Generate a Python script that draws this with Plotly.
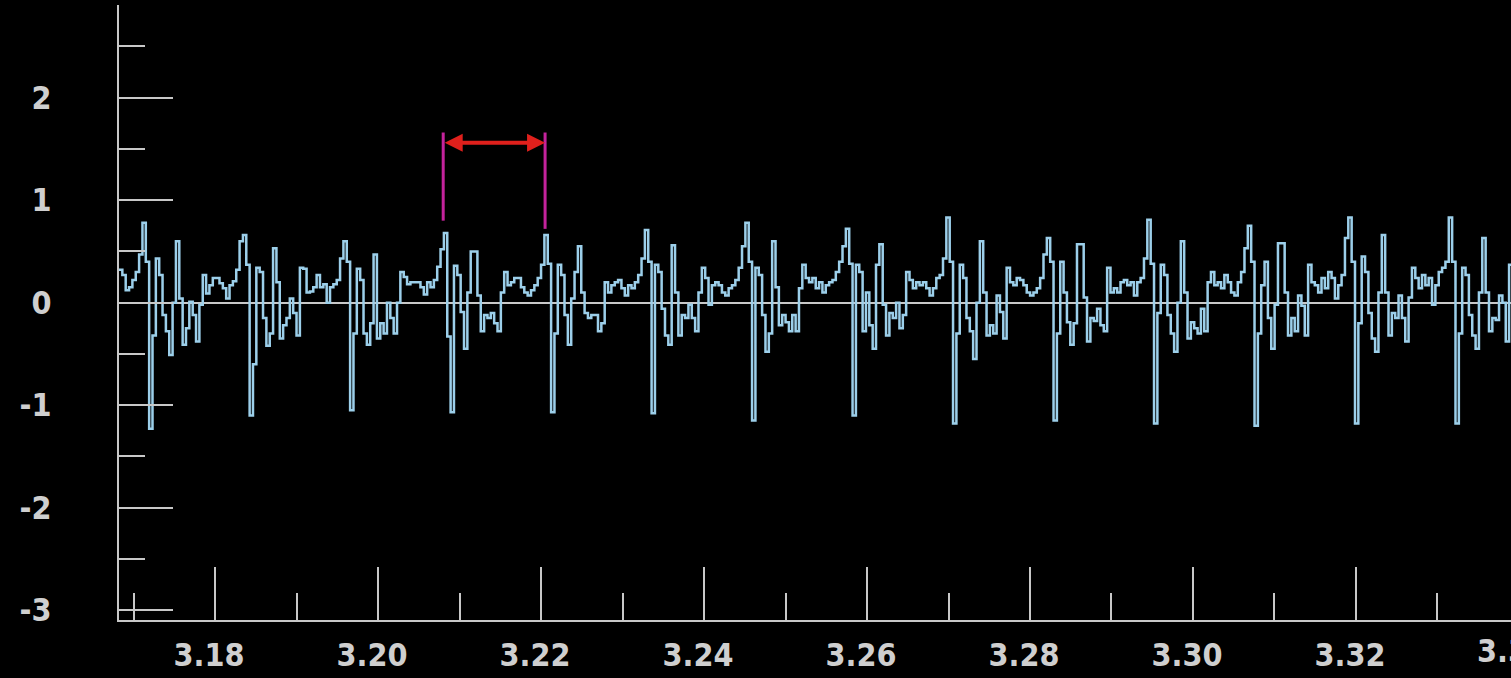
import numpy as np
import plotly.graph_objects as go

# --- sampled signal -------------------------------------------------------
T0 = 3.16822          # time of first sample (s)
DT = 0.0004110        # sample interval (s)

lead_in = [0.32, 0.27, 0.12, 0.15, 0.22, 0.30, 0.47, 0.78]

beat_00 = [0.40, -1.23, -0.32, 0.43, 0.27, -0.12, -0.28, -0.51, 0.00, 0.60, 0.04, -0.41, -0.25, 0.01, -0.12,
           -0.38, -0.02, 0.27, 0.09, 0.17, 0.24, 0.24, 0.19, 0.14, 0.04, 0.17, 0.21, 0.32, 0.60, 0.66]
beat_01 = [0.37, -1.10, -0.60, 0.34, 0.30, -0.15, -0.42, -0.30, 0.53, 0.20, -0.35, -0.22, -0.15, 0.04, -0.10,
           -0.32, 0.34, 0.33, 0.10, 0.11, 0.15, 0.27, 0.15, 0.18, 0.00, 0.15, 0.18, 0.22, 0.43, 0.60]
beat_02 = [0.40, -1.05, -0.30, 0.33, 0.22, -0.30, -0.41, -0.20, 0.47, -0.35, -0.20, -0.30, 0.00, -0.15, -0.30,
           0.00, 0.30, 0.25, 0.18, 0.20, 0.20, 0.20, 0.15, 0.08, 0.20, 0.15, 0.22, 0.35, 0.52, 0.68]
beat_03 = [-0.33, -1.07, 0.36, 0.27, -0.09, -0.45, 0.10, 0.50, 0.50, 0.07, -0.28, -0.12, -0.15, -0.10, -0.20,
           -0.28, 0.10, 0.30, 0.17, 0.20, 0.24, 0.24, 0.15, 0.10, 0.07, 0.12, 0.17, 0.24, 0.37, 0.66]
beat_04 = [0.38, -1.07, -0.30, 0.37, 0.27, -0.12, -0.41, 0.04, 0.30, 0.55, 0.10, -0.10, -0.15, -0.12, -0.12,
           -0.28, -0.20, 0.20, 0.10, 0.17, 0.20, 0.22, 0.14, 0.07, 0.17, 0.14, 0.20, 0.27, 0.43, 0.71]
beat_05 = [0.40, -1.08, 0.37, 0.30, -0.06, -0.32, -0.41, 0.56, 0.10, -0.32, -0.12, -0.15, -0.02, -0.15, -0.28,
           0.10, 0.34, 0.24, -0.02, 0.17, 0.20, 0.17, 0.10, 0.07, 0.14, 0.17, 0.22, 0.34, 0.55, 0.78]
beat_06 = [0.40, -1.15, 0.34, 0.27, -0.12, -0.48, -0.30, 0.60, 0.15, -0.22, -0.12, -0.19, -0.28, -0.12, -0.28,
           0.14, 0.37, 0.24, 0.20, 0.24, 0.14, 0.20, 0.10, 0.17, 0.20, 0.22, 0.30, 0.40, 0.55, 0.72]
beat_07 = [0.38, -1.10, 0.37, 0.30, -0.28, 0.10, -0.22, -0.45, 0.37, 0.57, -0.02, -0.32, -0.10, -0.15, 0.00,
           -0.25, -0.12, 0.30, 0.22, 0.14, 0.20, 0.17, 0.20, 0.14, 0.07, 0.14, 0.24, 0.27, 0.43, 0.83]
beat_08 = [0.40, -1.18, -0.30, 0.37, 0.24, -0.15, -0.28, -0.55, 0.00, 0.60, 0.10, -0.32, -0.22, -0.30, 0.07,
           -0.09, -0.35, 0.34, 0.20, 0.17, 0.24, 0.22, 0.17, 0.10, 0.07, 0.10, 0.14, 0.24, 0.47, 0.63]
beat_09 = [0.40, -1.15, -0.30, 0.40, 0.10, -0.19, -0.41, -0.20, 0.57, 0.57, 0.05, -0.38, -0.15, -0.18, -0.06,
           -0.22, -0.28, 0.34, 0.10, 0.14, 0.10, 0.20, 0.22, 0.17, 0.20, 0.07, 0.20, 0.24, 0.43, 0.81]
beat_10 = [0.38, -1.18, -0.10, 0.37, 0.27, -0.12, -0.30, -0.48, 0.00, 0.60, 0.10, -0.35, -0.19, -0.25, -0.30,
           -0.06, -0.28, 0.20, 0.30, 0.17, 0.20, 0.14, 0.27, 0.20, 0.10, 0.07, 0.20, 0.30, 0.53, 0.75]
beat_11 = [0.40, -1.20, -0.30, 0.17, 0.40, -0.15, -0.45, -0.02, 0.58, 0.58, 0.10, -0.32, -0.15, -0.28, 0.07,
           -0.03, -0.32, 0.37, 0.20, 0.17, 0.10, 0.24, 0.14, 0.30, 0.24, 0.04, 0.17, 0.27, 0.63, 0.83]
beat_12 = [0.40, -1.18, -0.20, 0.45, 0.30, -0.10, -0.35, -0.48, 0.10, 0.66, 0.10, -0.32, -0.10, -0.15, 0.07,
           -0.15, -0.38, 0.05, 0.34, 0.24, 0.14, 0.27, 0.17, 0.24, -0.02, 0.17, 0.30, 0.34, 0.40, 0.83]
beat_13 = [0.40, -1.18, -0.30, 0.34, 0.27, -0.12, -0.32, -0.45, 0.10, 0.63, 0.10, -0.28, -0.15, -0.17, 0.07,
           0.00, -0.38, 0.37, 0.20, 0.17]

beats = [beat_00, beat_01, beat_02, beat_03, beat_04, beat_05, beat_06,
         beat_07, beat_08, beat_09, beat_10, beat_11, beat_12, beat_13]

# --- cursor pair marking one period ---------------------------------------
CURSOR_T = [3.2080, 3.2205]
CURSOR_TOP = 1.66
CURSOR_BOTTOM = [0.80, 0.72]
ARROW_Y = 1.56

# --- axes ------------------------------------------------------------------
X_RANGE = [3.16822, 3.33902]
Y_RANGE = [-3.096, 2.904]
Y_TICKS = [-3, -2, -1, 0, 1, 2]
Y_TICK_TEXT = ["-3", "-2", "-1", "0", "1", "2"]
EDGE_TICK = 3.34

AXIS_COLOR = "#c8c8c8"
TEXT_COLOR = "#cfcfcf"
TRACE_COLOR = "#9ccfea"
FONT = dict(family="DejaVu Sans Condensed, Liberation Sans Narrow, Roboto, sans-serif",
            size=32, color=TEXT_COLOR, weight="bold")

signal = np.array(lead_in + [v for b in beats for v in b])
t = T0 + DT * np.arange(signal.size)

fig = go.Figure()
fig.add_trace(go.Scatter(
    x=t, y=signal, mode="lines", line_shape="hv",
    line=dict(color=TRACE_COLOR, width=2.5), hoverinfo="skip",
))

for xc, yb in zip(CURSOR_T, CURSOR_BOTTOM):
    fig.add_shape(type="line", xref="x", yref="y", x0=xc, x1=xc, y0=CURSOR_TOP, y1=yb,
                  line=dict(color="#c4239c", width=3))

fig.add_annotation(
    x=CURSOR_T[1], y=ARROW_Y, ax=CURSOR_T[0], ay=ARROW_Y, axref="x", ayref="y",
    xref="x", yref="y", text="", showarrow=True, arrowside="end+start",
    arrowhead=2, startarrowhead=2, arrowsize=0.9, startarrowsize=0.9,
    arrowwidth=4, arrowcolor="#e0201c",
)

# partially visible label at the right edge of the time axis
fig.add_annotation(
    x=(EDGE_TICK - X_RANGE[0]) / (X_RANGE[1] - X_RANGE[0]), xref="paper",
    y=0, yref="paper", yanchor="top", xanchor="center", yshift=-10, xshift=-6,
    text=f"{EDGE_TICK:.2f}", showarrow=False, font=FONT,
)

tick_style = dict(ticks="inside", tickcolor=AXIS_COLOR, tickwidth=2)

fig.update_xaxes(
    range=X_RANGE, showline=True, linecolor=AXIS_COLOR, linewidth=2,
    showgrid=False, zeroline=False, tick0=3.18, dtick=0.02, tickformat=".2f",
    ticklen=53, **tick_style,
    minor=dict(tick0=3.17, dtick=0.01, ticklen=27, ticks="inside",
               tickcolor=AXIS_COLOR, tickwidth=2, showgrid=False),
    tickfont=FONT, ticklabelstandoff=6, ticklabelshift=-6,
)
fig.update_yaxes(
    range=Y_RANGE, showline=True, linecolor=AXIS_COLOR, linewidth=2,
    showgrid=False, zeroline=True, zerolinecolor=AXIS_COLOR, zerolinewidth=2,
    tickmode="array", tickvals=Y_TICKS, ticktext=Y_TICK_TEXT,
    ticklen=54, **tick_style,
    minor=dict(tickmode="linear", tick0=0, dtick=0.5, ticklen=26, ticks="inside",
               tickcolor=AXIS_COLOR, tickwidth=2, showgrid=False),
    tickfont=FONT, ticklabelstandoff=59,
)

fig.update_layout(
    width=1511, height=678,
    margin=dict(l=119, r=0, t=5, b=58, autoexpand=False),
    paper_bgcolor="black", plot_bgcolor="black", showlegend=False,
)

fig.write_html("out.html")
